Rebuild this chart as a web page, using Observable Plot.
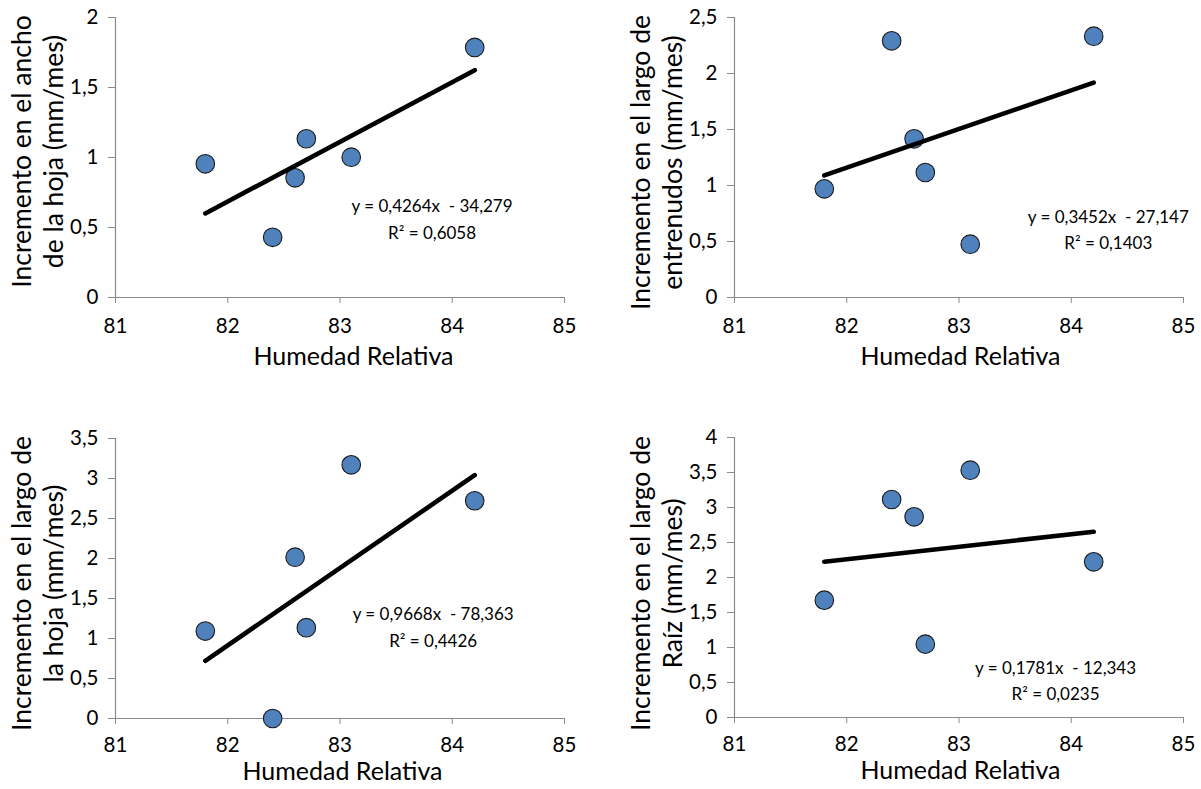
<!DOCTYPE html>
<html>
<head>
<meta charset="utf-8">
<script src="https://cdn.jsdelivr.net/npm/d3@7"></script>
<script src="https://cdn.jsdelivr.net/npm/@observablehq/plot@0.6"></script>
<style>
  body { margin: 0; background: #ffffff; }
  #wrap { position: relative; width: 1201px; height: 789px; overflow: hidden; background: #fff; }
  .panel { position: absolute; }
</style>
</head>
<body>
<div id="wrap"></div>
<script>
// ---- data ----
const humedad = [81.8, 82.4, 82.6, 82.7, 83.1, 84.2];
const anchoHoja = [0.955, 0.43, 0.855, 1.134, 1.002, 1.786];
const largoEntrenudos = [0.97, 2.292, 1.417, 1.116, 0.476, 2.333];
const largoHoja = [1.093, 0.0, 2.016, 1.135, 3.171, 2.722];
const largoRaiz = [1.676, 3.114, 2.867, 1.048, 3.533, 2.224];

const xTicks = [81, 82, 83, 84, 85];
const yMax = [2, 2.5, 3.5, 4];
const xTitle = "Humedad Relativa";
const yTitles = [
  "Incremento en el ancho\nde la hoja (mm/mes)",
  "Incremento en el largo de\nentrenudos (mm/mes)",
  "Incremento en el largo de\nla hoja (mm/mes)",
  "Incremento en el largo de\nRaíz (mm/mes)"
];
const slopes = [0.4264, 0.3452, 0.9668, 0.1781];
const intercepts = [-34.279, -27.147, -78.363, -12.343];
const eqLabels = [
  "y = 0,4264x  - 34,279\nR² = 0,6058",
  "y = 0,3452x  - 27,147\nR² = 0,1403",
  "y = 0,9668x  - 78,363\nR² = 0,4426",
  "y = 0,1781x  - 12,343\nR² = 0,0235"
];
const series = [anchoHoja, largoEntrenudos, largoHoja, largoRaiz];

// ---- layout (positions / sizes) ----
const layout = [
  {left: 0,   top: 0,   width: 600, height: 390, mL: 115, mR: 36, mT: 17, mB: 93, eq: [83.82, 0.575], yTdy: -6, xTdx: 13.5, xTdy: 59, tp: 15},
  {left: 600, top: 0,   width: 601, height: 390, mL: 134, mR: 18, mT: 17, mB: 93, eq: [84.33, 0.622], yTdy: 5,  xTdx: 1.5,  xTdy: 59, tp: 15},
  {left: 0,   top: 390, width: 600, height: 399, mL: 115, mR: 36, mT: 48, mB: 71, eq: [83.83, 1.169], yTdy: 5,  xTdx: 2.5,  xTdy: 53, tp: 13},
  {left: 600, top: 390, width: 601, height: 399, mL: 134, mR: 18, mT: 47, mB: 72, eq: [83.86, 0.557], yTdy: 6,  xTdx: 1.5,  xTdy: 53, tp: 13}
];

const axisGray = "#8a8a8a";
const wrap = document.getElementById("wrap");

series.forEach((vals, i) => {
  const L = layout[i];
  const pts = humedad.map((h, k) => ({x: h, y: vals[k]}));
  const xs = d3.extent(humedad);
  const trend = xs.map(x => ({x, y: slopes[i] * x + intercepts[i]}));
  const yTicks = d3.range(0, yMax[i] + 1e-9, 0.5);

  const chart = Plot.plot({
    width: L.width,
    height: L.height,
    marginLeft: L.mL,
    marginRight: L.mR,
    marginTop: L.mT,
    marginBottom: L.mB,
    style: {fontFamily: "Lato, 'Open Sans', sans-serif", fontSize: "20px", color: "#000", background: "#fff", overflow: "visible"},
    x: {domain: [81, 85], label: null},
    y: {domain: [0, yMax[i]], label: null},
    marks: [
      Plot.axisX({ticks: xTicks, tickSize: 6, tickPadding: L.tp, stroke: axisGray, fill: "#000", fontSize: 20.5, label: null,
                  tickFormat: d => String(d)}),
      Plot.axisY({ticks: yTicks, tickSize: 7, tickPadding: 10, stroke: axisGray, fill: "#000", fontSize: 20.5, label: null,
                  tickFormat: d => String(d).replace(".", ",")}),
      Plot.ruleY([0], {x1: 81, x2: 85, stroke: axisGray, strokeWidth: 1.2}),
      Plot.ruleX([81], {y1: 0, y2: yMax[i], stroke: axisGray, strokeWidth: 1.2}),
      Plot.dot(pts, {x: "x", y: "y", r: 9.3, fill: "#4F81BD", stroke: "#1a1a1a", strokeWidth: 1.1}),
      Plot.line(trend, {x: "x", y: "y", stroke: "#000", strokeWidth: 4.6, strokeLinecap: "round"}),
      Plot.text([eqLabels[i]], {x: () => L.eq[0], y: () => L.eq[1], text: d => d, fontSize: 17, lineHeight: 1.55,
                 textAnchor: "middle", lineAnchor: "middle", fill: "#000"}),
      Plot.text([yTitles[i]], {frameAnchor: "left", text: d => d, rotate: -90, dx: -79, dy: L.yTdy, fontSize: 26.5,
                 lineHeight: 1.2, textAnchor: "middle", lineAnchor: "middle", fill: "#000"}),
      Plot.text([xTitle], {frameAnchor: "bottom", text: d => d, dx: L.xTdx, dy: L.xTdy, fontSize: 25,
                 textAnchor: "middle", lineAnchor: "middle", fill: "#000"})
    ]
  });
  const div = document.createElement("div");
  div.className = "panel";
  div.style.left = L.left + "px";
  div.style.top = L.top + "px";
  div.appendChild(chart);
  wrap.appendChild(div);
});
</script>
</body>
</html>
